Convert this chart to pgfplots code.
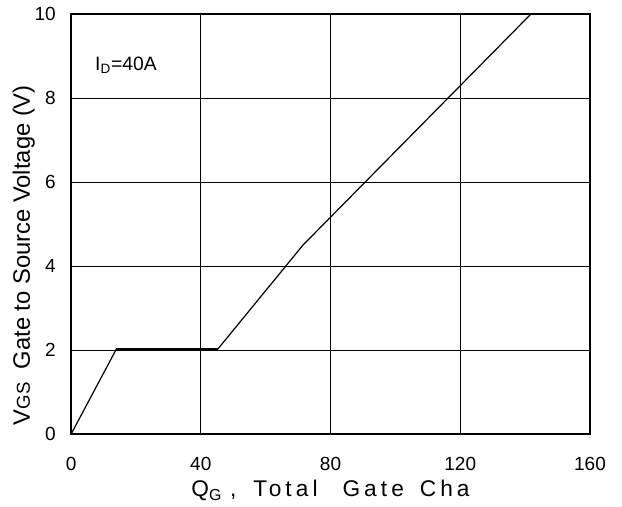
\documentclass[border=0pt]{standalone}
\usepackage{pgfplots}
\pgfplotsset{compat=1.18}
\usepackage{fontspec}
\setmainfont{Liberation Sans}
\newcommand{\ticksize}{\fontsize{14.25pt}{16pt}\selectfont}
\newcommand{\labsize}{\fontsize{17.8pt}{20pt}\selectfont}
\begin{document}
\begin{tikzpicture}
\begin{axis}[
    scale only axis,
    width=389pt, height=315pt,
    xmin=0, xmax=160, ymin=0, ymax=10,
    xtick={0,40,80,120,160},
    ytick={0,2,4,6,8,10},
    major tick length=0pt,
    grid=major,
    major grid style={black, line width=0.8pt},
    axis line style={black, line width=1.2pt},
    /pgf/number format/assume math mode=true,
    tick label style={font=\ticksize},
    xticklabel style={yshift=-14pt},
    yticklabel style={xshift=-8pt},
    xlabel={\fontsize{17pt}{19pt}\selectfont\addfontfeatures{LetterSpace=18}Q\textsubscript{G}\hspace{0.35em},\hspace{0.75em}Total\hspace{1.1em}Gate\hspace{0.7em}Cha},
    ylabel={V{\fontsize{14pt}{16pt}\selectfont GS}\ \ Gate to Source Voltage (V)},
    label style={font=\labsize},
    xlabel style={yshift=0pt},
    ylabel style={at={(ticklabel cs:0.426)}, yshift=-7pt},
]
\addplot[black, line width=0.9pt] coordinates {(0,0) (14,2.03) (45.3,2.03) (71.5,4.5) (141.8,10)};
\addplot[black, line width=1.5pt] coordinates {(14,2.03) (45.3,2.03)};
\node[anchor=base west, font=\fontsize{14.5pt}{16pt}\selectfont] at (axis cs:6,8.65) {I\textsubscript{D}=40A};
\end{axis}
\path (current axis.south west) ++(-53.25pt,-54pt) coordinate (bbl);
\path (current axis.north east) ++(24pt,10.5pt) coordinate (bbr);
\useasboundingbox (bbl) rectangle (bbr);
\end{tikzpicture}
\end{document}
